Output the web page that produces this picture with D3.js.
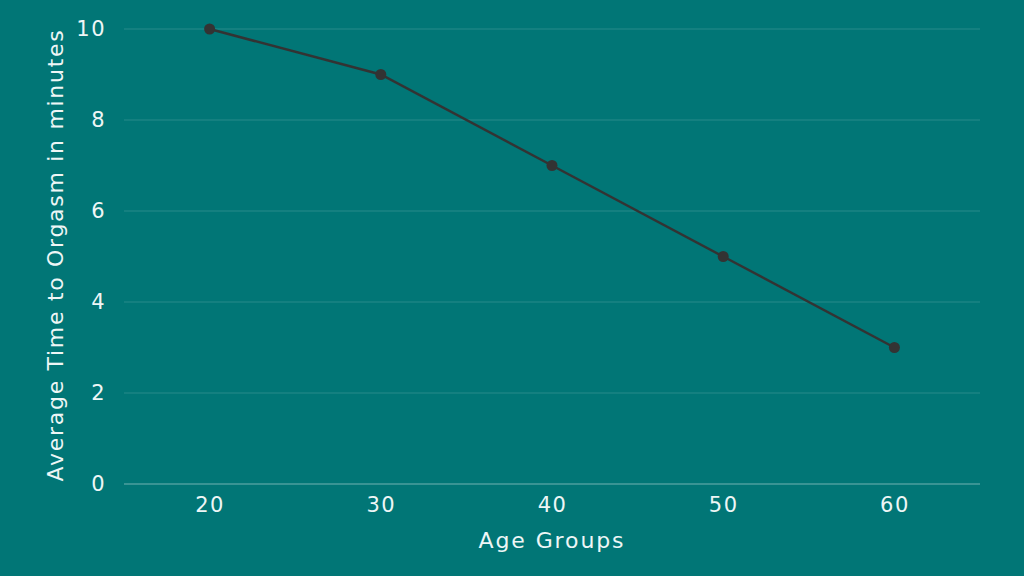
<!DOCTYPE html>
<html>
<head>
<meta charset="utf-8">
<script src="https://cdn.jsdelivr.net/npm/d3@7"></script>
<style>
  body { margin: 0; background: #017676; }
  text { font-family: "DejaVu Sans", sans-serif; fill: #eef6f6; }
</style>
</head>
<body>
<script>
const width = 1024;
const height = 576;

const ageGroups = [20, 30, 40, 50, 60];
const avgMinutes = [10, 9, 7, 5, 3];
const yTicks = [0, 2, 4, 6, 8, 10];

const margin = {left: 124, right: 44, top: 29, bottom: 92};

const svg = d3.select('body')
    .append('svg')
    .attr('width', width)
    .attr('height', height);

svg.append('rect')
    .attr('width', width)
    .attr('height', height)
    .attr('fill', '#017676');

const x = d3.scaleLinear()
    .domain([15, 65])
    .range([margin.left, width - margin.right]);
const y = d3.scaleLinear()
    .domain([0, 10])
    .range([height - margin.bottom, margin.top]);

// grid lines
svg.append('g')
    .selectAll('line')
    .data(yTicks)
    .enter()
    .append('line')
    .attr('x1', margin.left)
    .attr('x2', width - margin.right)
    .attr('y1', d => y(d))
    .attr('y2', d => y(d))
    .attr('stroke', d => d === 0 ? 'rgba(255,255,255,0.3)' : 'rgba(255,255,255,0.16)')
    .attr('stroke-width', d => d === 0 ? 1.5 : 1);

const yAxis = svg.append('g')
    .attr('transform', `translate(${margin.left},0)`)
    .call(d3.axisLeft(y).tickValues(yTicks).tickSize(0).tickPadding(18));
yAxis.select('.domain').remove();
yAxis.selectAll('text').style('font-size', '21px').style('letter-spacing', '1.5px');

const xAxis = svg.append('g')
    .attr('transform', `translate(0,${height - margin.bottom})`)
    .call(d3.axisBottom(x).tickValues(ageGroups).tickSize(0).tickPadding(13));
xAxis.select('.domain').remove();
xAxis.selectAll('text').style('font-size', '21px').style('letter-spacing', '1.5px');

svg.append('text')
    .attr('x', (margin.left + width - margin.right) / 2)
    .attr('y', 548)
    .attr('text-anchor', 'middle')
    .style('font-size', '22px')
    .style('letter-spacing', '1.9px')
    .text('Age Groups');

svg.append('text')
    .attr('transform', 'translate(63,255) rotate(-90)')
    .attr('text-anchor', 'middle')
    .style('font-size', '22px')
    .style('letter-spacing', '1.7px')
    .text('Average Time to Orgasm in minutes');

const data = ageGroups.map((a, i) => [a, avgMinutes[i]]);
const line = d3.line().x(d => x(d[0])).y(d => y(d[1]));

svg.append('path')
    .attr('d', line(data))
    .attr('stroke', '#333333')
    .attr('stroke-width', 2.5)
    .attr('fill', 'none');

svg.append('g')
    .selectAll('circle')
    .data(data)
    .enter()
    .append('circle')
    .attr('cx', d => x(d[0]))
    .attr('cy', d => y(d[1]))
    .attr('r', 5.5)
    .attr('fill', '#333333');
</script>
</body>
</html>
